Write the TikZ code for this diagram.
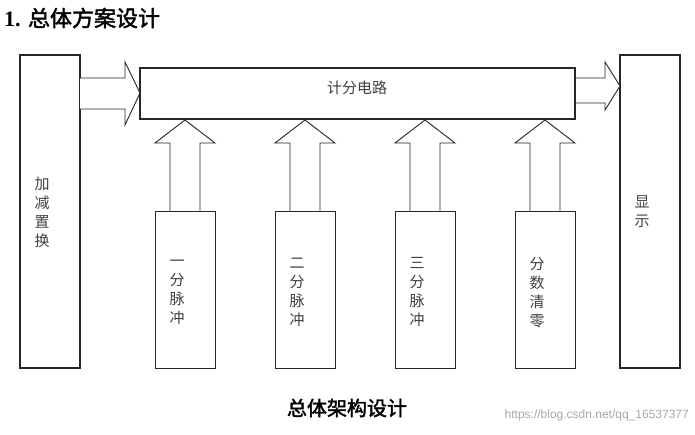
\documentclass[tikz,border=0pt]{standalone}
\usepackage{fontspec}
\newfontfamily\cjk{Noto Sans CJK SC}
\newfontfamily\cjkb{Noto Sans CJK SC}[BoldFont={* Bold},AutoFakeBold=2]
\setmainfont{Liberation Serif}
\begin{document}
\begin{tikzpicture}[x=1pt,y=-1pt,
  box/.style={draw=black!85,line width=1.1pt},
  arr/.style={draw=black!85,line width=0.9pt,fill=white},
  lbl/.style={font=\cjk\fontsize{15}{19}\selectfont,text=black!75,align=center,inner sep=0pt},
]
\useasboundingbox (0,0) rectangle (695,434);
% title
\node[anchor=west,font=\bfseries\fontsize{22}{24}\selectfont,inner sep=0pt] (title) at (4,18) {1. {\cjkb\bfseries 总体方案设计}};
% left and right boxes
\draw[box] (20,55) rectangle (80,368);
\node[lbl] (l) at (42,212) {加\\减\\置\\换};
\draw[box] (620,55) rectangle (680,368);
\node[lbl] (r) at (642,212) {显\\示};
% horizontal arrows
\draw[arr] (80,78) -- (125,78) -- (125,62) -- (140,93) -- (125,125) -- (125,109) -- (80,109);
\draw[arr] (575,78) -- (605,78) -- (605,62) -- (620,86) -- (605,110) -- (605,103) -- (575,103);
% middle box
\draw[box,fill=white] (140,68) rectangle (575,119);
\node[lbl] (m) at (357,88) {计分电路};
% vertical arrows and lower boxes
\foreach \cx/\t [count=\i] in {185/{一\\分\\脉\\冲},305/{二\\分\\脉\\冲},425/{三\\分\\脉\\冲},545/{分\\数\\清\\零}}{
  \draw[arr] (\cx-15,211) -- (\cx-15,143) -- (\cx-30,143) -- (\cx,120) -- (\cx+30,143) -- (\cx+15,143) -- (\cx+15,211);
  \draw[box,line width=0.9pt] (\cx-30,211) rectangle (\cx+30,368);
  \node[lbl] (b\i) at (\cx-8,292) {\t};
}
\node[font=\cjkb\bfseries\fontsize{20}{22}\selectfont,inner sep=0pt] (cap) at (347,408) {总体架构设计};
\node[anchor=east,font=\fontspec{Liberation Sans}\fontsize{12}{14}\selectfont,text=black!35,inner sep=0pt] (wm) at (689,415) {https://blog.csdn.net/qq\_16537377};
\end{tikzpicture}
\end{document}
